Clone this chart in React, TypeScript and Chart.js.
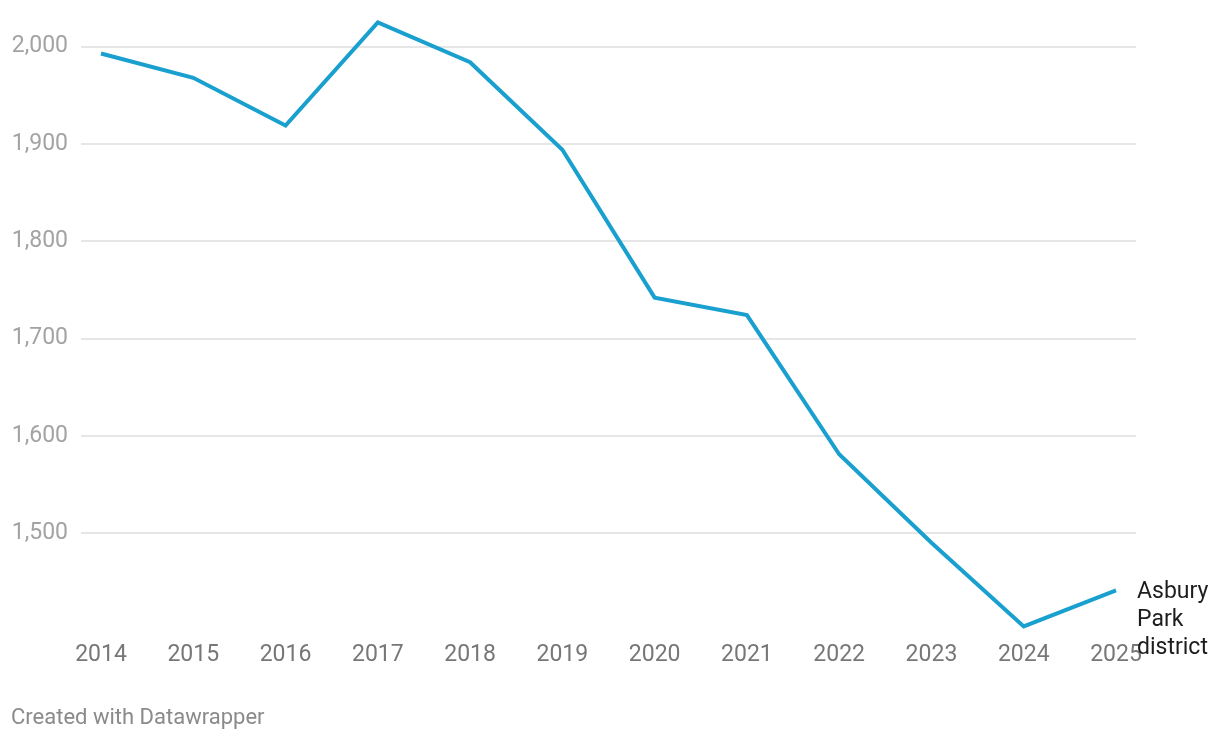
import React, { useEffect, useRef } from "react";
import { Chart, registerables } from "chart.js";

Chart.register(...registerables);

const years = [2014, 2015, 2016, 2017, 2018, 2019, 2020, 2021, 2022, 2023, 2024, 2025];
const enrollment = [1993, 1968, 1919, 2025, 1984, 1894, 1742, 1724, 1581, 1490, 1404, 1441];
const yTicks = [1500, 1600, 1700, 1800, 1900, 2000];
const seriesLabel = ["Asbury", "Park", "district"];
const footerText = "Created with Datawrapper";

const FONT = "Roboto";

export default function App() {
  const ref = useRef<HTMLCanvasElement>(null);

  useEffect(() => {
    document.body.style.margin = "0";
    const endLabel = {
      id: "endLabel",
      afterDatasetsDraw(chart: any) {
        const meta = chart.getDatasetMeta(0);
        const pt = meta.data[meta.data.length - 1];
        const ctx = chart.ctx;
        ctx.save();
        ctx.font = `23px ${FONT}`;
        ctx.fillStyle = "#1d1d1d";
        ctx.textBaseline = "middle";
        ctx.textAlign = "left";
        seriesLabel.forEach((t, i) => ctx.fillText(t, pt.x + 21, pt.y + 1.5 + i * 28));
        ctx.restore();
      },
    };

    const chart = new Chart(ref.current as HTMLCanvasElement, {
      type: "line",
      data: {
        datasets: [
          {
            data: years.map((x, i) => ({ x, y: enrollment[i] })),
            borderColor: "#19a0cf",
            borderWidth: 4,
            pointRadius: 0,
            tension: 0,
          },
        ],
      },
      options: {
        responsive: false,
        animation: false,
        layout: { padding: { left: 0, right: 84, top: 7.8, bottom: 71.7 } },
        plugins: { legend: { display: false }, tooltip: { enabled: false } },
        scales: {
          x: {
            type: "linear",
            min: 2013.7833,
            max: 2025.2167,
            afterBuildTicks: (a: any) => {
              a.ticks = years.map((v) => ({ value: v }));
            },
            afterFit: (a: any) => {
              a.height = 40;
              a.paddingLeft = 0;
              a.paddingRight = 0;
            },
            grid: { display: false },
            border: { display: false },
            ticks: {
              callback: (v: any) => String(v),
              color: "#777777",
              font: { family: FONT, size: 23 },
              padding: 3,
              maxRotation: 0,
              autoSkip: false,
            },
          },
          y: {
            min: 1400,
            max: 2040,
            afterBuildTicks: (a: any) => {
              a.ticks = yTicks.map((v) => ({ value: v }));
            },
            afterFit: (a: any) => {
              a.width = 81;
              a.paddingTop = 0;
              a.paddingBottom = 0;
            },
            grid: { color: "#e6e6e6", lineWidth: 2, drawTicks: false },
            border: { display: false },
            ticks: {
              color: "#a3a3a3",
              font: { family: FONT, size: 23 },
              padding: 13,
              callback: (v: any) => Number(v).toLocaleString("en-US"),
            },
          },
        },
      },
      plugins: [endLabel],
    } as any);
    return () => chart.destroy();
  }, []);

  return (
    <div style={{ position: "relative", width: 1220, height: 742, background: "#fff", overflow: "hidden" }}>
      <canvas ref={ref} width={1220} height={742} style={{ position: "absolute", left: 0, top: 0 }} />
      <div
        style={{
          position: "absolute",
          left: 11,
          top: 704,
          fontFamily: FONT,
          fontSize: 22,
          color: "#8a8a8a",
          whiteSpace: "nowrap",
        }}
      >
        {footerText}
      </div>
    </div>
  );
}
